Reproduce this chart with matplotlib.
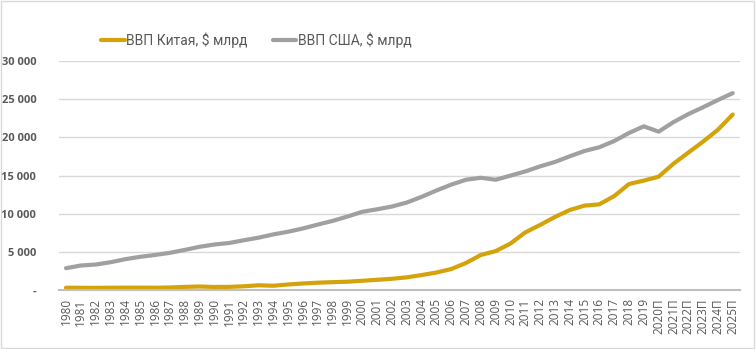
import matplotlib.pyplot as plt
from matplotlib.patches import Rectangle
from matplotlib.ticker import FuncFormatter

years = [str(y) for y in range(1980, 2020)] + ['2020П', '2021П', '2022П', '2023П', '2024П', '2025П']

china = [300, 290, 280, 300, 310, 310, 300, 330, 410, 460,
         400, 410, 490, 620, 560, 730, 860, 960, 1030, 1090,
         1210, 1340, 1470, 1660, 1960, 2290, 2750, 3550, 4590, 5100,
         6090, 7550, 8530, 9570, 10480, 11060, 11230, 12310, 13890, 14340,
         14850, 16550, 18000, 19450, 21000, 23000]

usa = [2860, 3210, 3340, 3640, 4040, 4350, 4590, 4870, 5250, 5660,
       5960, 6160, 6520, 6860, 7290, 7640, 8070, 8580, 9060, 9630,
       10250, 10580, 10940, 11460, 12210, 13040, 13810, 14450, 14710, 14450,
       14990, 15540, 16200, 16780, 17520, 18220, 18710, 19520, 20580, 21450,
       20750, 22000, 23050, 23950, 24900, 25800]

plt.rcParams['font.family'] = ['Open Sans', 'DejaVu Sans']

fig = plt.figure(figsize=(7.56, 3.49), dpi=100)
ax = fig.add_axes([0.0775, 0.169, 0.9015, 0.656])

x = range(len(years))
ax.plot(x, china, color='#D4A20A', lw=3, label='ВВП Китая, $ млрд', solid_capstyle='round')
ax.plot(x, usa, color='#A0A0A0', lw=3, label='ВВП США, $ млрд', solid_capstyle='round')

ax.set_xlim(-0.5, len(years) - 0.5)
ax.set_ylim(0, 30000)
ax.set_yticks(range(0, 30001, 5000))
ax.yaxis.set_major_formatter(FuncFormatter(lambda v, p: '-' if v == 0 else f'{int(v):,}'.replace(',', ' ')))
ax.set_xticks(list(x))
ax.set_xticklabels(years, rotation=90, fontsize=8.5, color='#595959')
for lbl in ax.get_yticklabels():
    lbl.set_fontsize(8)
    lbl.set_fontweight('bold')
    lbl.set_color('#595959')

ax.grid(axis='y', color='#D9D9D9', lw=1)
ax.set_axisbelow(True)
for s in ['top', 'right', 'left']:
    ax.spines[s].set_visible(False)
ax.spines['bottom'].set_color('#BFBFBF')
ax.spines['bottom'].set_linewidth(1.5)
ax.tick_params(axis='both', length=0, pad=6)
ax.tick_params(axis='y', pad=16)

fig.legend(loc='center', bbox_to_anchor=(0.339, 0.885), ncol=2, frameon=False,
           prop={'family': 'Roboto', 'size': 10}, labelcolor='#595959',
           handlelength=1.7, handletextpad=0.1, columnspacing=1.8)

fig.patches.append(Rectangle((0.001, 0.002), 0.997, 0.995, transform=fig.transFigure,
                             fill=False, edgecolor='#D9D9D9', lw=1))

plt.savefig('out.png', dpi=100)
